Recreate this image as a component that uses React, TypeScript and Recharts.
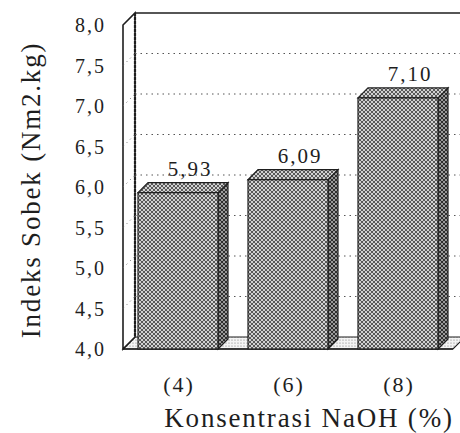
import { BarChart, Bar, XAxis, YAxis, CartesianGrid, LabelList } from 'recharts'

const categories = ['(4)', '(6)', '(8)']
const values = [5.93, 6.09, 7.1]
const valueLabels = ['5,93', '6,09', '7,10']
const yTicks = [4, 4.5, 5, 5.5, 6, 6.5, 7, 7.5, 8]
const yTickLabels = ['4,0', '4,5', '5,0', '5,5', '6,0', '6,5', '7,0', '7,5', '8,0']

const data = categories.map((c, i) => ({ name: c, value: values[i], label: valueLabels[i] }))

const FONT = '"Liberation Serif", "Times New Roman", serif'
const INK = '#1e1e1e'
const WALL = 12 // depth of the 3d walls
const BAR_DEPTH = 10

// grid lines sit on the back wall; the first call also draws the walls and floor
function GridLine(props: any) {
  const { x1, x2, y1, index, y, height } = props
  const L = x1
  const R = x2
  const T = y
  const B = y + height
  const D = WALL
  const isEdge = Math.abs(y1 - T) < 1 || Math.abs(y1 - B) < 1
  return (
    <g key={props.key}>
      {index === 0 && (
        <g>
          <defs>
            <pattern id="hatch" width="4" height="4" patternUnits="userSpaceOnUse">
              <rect width="4" height="4" fill="#d2d2d2" />
              <path d="M0,0 L4,4 M4,0 L0,4" stroke="#3a3a3a" strokeWidth="0.8" />
            </pattern>
            <pattern id="hatchDark" width="4" height="4" patternUnits="userSpaceOnUse">
              <rect width="4" height="4" fill="#9a9a9a" />
              <path d="M0,0 L4,4 M4,0 L0,4" stroke="#222" strokeWidth="0.9" />
            </pattern>
            <pattern id="floorDots" width="3" height="3" patternUnits="userSpaceOnUse">
              <rect width="3" height="3" fill="#f4f4f4" />
              <circle cx="1" cy="1" r="0.6" fill="#777" />
            </pattern>
          </defs>
          <polygon
            points={`${L},${B} ${L + D},${B - D} ${R + D},${B - D} ${R},${B}`}
            fill="url(#floorDots)"
            stroke={INK}
            strokeWidth={1.2}
          />
          <polygon
            points={`${L},${B} ${L},${T} ${L + D},${T - D} ${L + D},${B - D}`}
            fill="#fff"
            stroke={INK}
            strokeWidth={1.6}
          />
          <line x1={L + D} y1={T - D} x2={L + D} y2={B - D} stroke={INK} strokeWidth={2.2} strokeDasharray="3 1" />
          <line x1={L + D} y1={T - D} x2={R + D + 20} y2={T - D} stroke={INK} strokeWidth={1.6} />
          <line x1={L} y1={B} x2={R} y2={B} stroke={INK} strokeWidth={1.6} />
        </g>
      )}
      {!isEdge && (
        <g>
          <line x1={L} y1={y1} x2={L + D} y2={y1 - D} stroke="#666" strokeDasharray="1 4" />
          <line x1={L + D} y1={y1 - D} x2={R + D + 20} y2={y1 - D} stroke="#555" strokeDasharray="1.5 4" />
        </g>
      )}
    </g>
  )
}

function Bar3D(props: any) {
  const { x, y, width, height } = props
  const d = BAR_DEPTH
  const b = y + height
  const r = x + width
  return (
    <g>
      <polygon
        points={`${r},${y} ${r + d},${y - d} ${r + d},${b - d} ${r},${b}`}
        fill="url(#hatchDark)"
        stroke={INK}
        strokeWidth={1.2}
      />
      <polygon
        points={`${x},${y} ${x + d},${y - d} ${r + d},${y - d} ${r},${y}`}
        fill="url(#hatch)"
        stroke={INK}
        strokeWidth={1.2}
      />
      <rect x={x} y={y} width={width} height={height} fill="url(#hatch)" stroke={INK} strokeWidth={1.2} />
    </g>
  )
}

function YTick(props: any) {
  const { x, y, payload } = props
  const i = yTicks.indexOf(payload.value)
  return (
    <text x={x - 15} y={y} dy="0.35em" textAnchor="end" fontFamily={FONT} fontSize={20} letterSpacing={2} fill={INK}>
      {yTickLabels[i]}
    </text>
  )
}

function XTick(props: any) {
  const { x, y, payload } = props
  return (
    <text x={x + 1} y={y + 41} textAnchor="middle" fontFamily={FONT} fontSize={22} letterSpacing={2} fill={INK}>
      {payload.value}
    </text>
  )
}

export default function App() {
  return (
    <div style={{ position: 'absolute', left: 0, top: 0, width: 460, height: 433, background: '#fff' }}>
      <BarChart
        width={460}
        height={433}
        data={data}
        margin={{ top: 25, right: 7, left: 0, bottom: 0 }}
        barCategoryGap={15}
      >
        <CartesianGrid vertical={false} horizontal={GridLine as any} />
        <XAxis
          dataKey="name"
          height={84}
          axisLine={false}
          tickLine={false}
          tickSize={0}
          tick={XTick}
          interval={0}
          label={{
            content: (p: any) => {
              const vb = p.viewBox
              return (
                <text
                  x={vb.x + vb.width / 2 + 21}
                  y={vb.y + 78}
                  textAnchor="middle"
                  fontFamily={FONT}
                  fontSize={27}
                  letterSpacing={1.8}
                  fill={INK}
                >
                  Konsentrasi NaOH (%)
                </text>
              )
            },
          }}
        />
        <YAxis
          width={123}
          domain={[4, 8]}
          ticks={yTicks}
          axisLine={false}
          tickLine={false}
          tickSize={0}
          tick={YTick}
          interval={0}
          label={{
            content: (p: any) => {
              const vb = p.viewBox
              const cx = vb.x + 31
              const cy = vb.y + vb.height / 2 + 3
              return (
                <text
                  x={cx}
                  y={cy}
                  transform={`rotate(-90, ${cx}, ${cy})`}
                  textAnchor="middle"
                  dominantBaseline="central"
                  fontFamily={FONT}
                  fontSize={27}
                  letterSpacing={1.8}
                  fill={INK}
                >
                  Indeks Sobek (Nm2.kg)
                </text>
              )
            },
          }}
        />
        <Bar dataKey="value" barSize={80} shape={Bar3D} isAnimationActive={false}>
          <LabelList
            dataKey="label"
            content={(p: any) => (
              <text
                x={p.x + p.width / 2 + 12}
                y={p.y - BAR_DEPTH - 7}
                textAnchor="middle"
                fontFamily={FONT}
                fontSize={21}
                letterSpacing={2}
                fill={INK}
              >
                {p.value}
              </text>
            )}
          />
        </Bar>
      </BarChart>
    </div>
  )
}
